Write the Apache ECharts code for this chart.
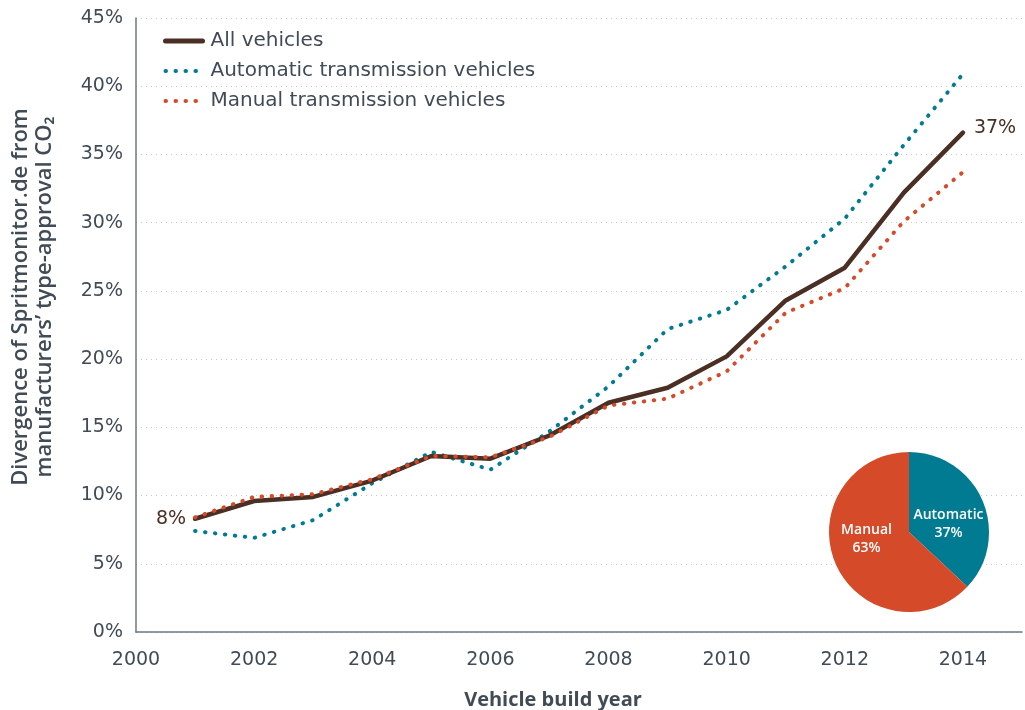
<!DOCTYPE html>
<html>
<head>
<meta charset="utf-8">
<script src="https://cdn.jsdelivr.net/npm/echarts@6/dist/echarts.min.js"></script>
<style>
    html, body { margin: 0; padding: 0; background: #fff; }
    #chart { width: 1025px; height: 710px; }
</style>
</head>
<body>
<div id="chart"></div>
<script>
    // build years and divergence (%)
    var years = [2001, 2002, 2003, 2004, 2005, 2006, 2007, 2008, 2009, 2010, 2011, 2012, 2013, 2014];
    var allVehicles = [8.3, 9.6, 9.9, 11.1, 12.9, 12.7, 14.4, 16.8, 17.9, 20.2, 24.3, 26.7, 32.2, 36.6];
    var automatic = [7.4, 6.9, 8.2, 10.9, 13.2, 11.9, 14.7, 18.0, 22.2, 23.6, 26.8, 30.3, 35.7, 40.9];
    var manual = [8.4, 9.9, 10.1, 11.2, 12.9, 12.8, 14.3, 16.6, 17.1, 19.1, 23.4, 25.2, 30.1, 33.7];
    var seriesNames = ['All vehicles', 'Automatic transmission vehicles', 'Manual transmission vehicles'];
    var pieNames = ['Automatic', 'Manual'];
    var pieValues = [37, 63];

    var FONT = 'DejaVu Sans';
    var TEXT = '#414b56';
    var BROWN = '#4b2e24';
    var TEAL = '#007b91';
    var RED = '#d54a28';

    function pairs(vals) {
        return years.map(function (y, i) { return [y, vals[i]]; });
    }

    // labels at both ends of "All vehicles"
    var last = years.length - 1;
    var endLabels = [
        { coord: [years[0], allVehicles[0]], pos: 'left', off: [0, 0] },
        { coord: [years[last], allVehicles[last]], pos: 'right', off: [2, -5] }
    ].map(function (e) {
        return {
            coord: e.coord,
            label: {
                position: e.pos,
                distance: 9,
                offset: e.off,
                formatter: Math.round(e.coord[1]) + '%'
            }
        };
    });

    var dotted = { type: [0.5, 9.5], cap: 'round', width: 4 };

    var chart = echarts.init(document.getElementById('chart'));
    var option = {
        animation: false,
        textStyle: { fontFamily: FONT },
        grid: { left: 136, right: 3, top: 18, bottom: 78, outerBoundsMode: 'none' },
        legend: {
            left: 158,
            top: 26,
            orient: 'vertical',
            itemGap: 10,
            itemWidth: 37,
            itemHeight: 22,
            itemStyle: { opacity: 0 },
            textStyle: { color: TEXT, fontSize: 20, fontFamily: FONT, padding: [0, 0, 0, 3] },
            data: [
                { name: seriesNames[0], lineStyle: { width: 5 } },
                { name: seriesNames[1], lineStyle: { width: 4 } },
                { name: seriesNames[2], lineStyle: { width: 4 } }
            ]
        },
        xAxis: {
            type: 'value',
            min: 2000,
            max: 2015,
            interval: 2,
            name: 'Vehicle build year',
            nameLocation: 'middle',
            nameGap: 58,
            nameTextStyle: { color: TEXT, fontSize: 20, fontWeight: 'bold', fontFamily: 'Open Sans', padding: [0, 52, 0, 0] },
            axisLine: { lineStyle: { color: '#6d7782', width: 1.5 } },
            axisTick: { show: false },
            axisLabel: {
                color: TEXT, fontSize: 19, margin: 19,
                showMaxLabel: false,
                formatter: function (v) { return String(v); }
            },
            splitLine: { show: false }
        },
        yAxis: {
            type: 'value',
            min: 0,
            max: 45,
            interval: 5,
            name: 'Divergence of Spritmonitor.de from\nmanufacturers\u2019 type-approval CO\u2082',
            nameLocation: 'middle',
            nameRotate: 90,
            nameGap: 79,
            nameTextStyle: { color: TEXT, fontSize: 22, fontWeight: 600, fontFamily: 'Open Sans', lineHeight: 24, padding: [0, 0, 0, 56] },
            axisLine: { show: true, lineStyle: { color: '#6d7782', width: 1.5 } },
            axisTick: { show: false },
            axisLabel: {
                color: TEXT, fontSize: 19, margin: 13,
                formatter: function (v) { return v + '%'; }
            },
            splitLine: { lineStyle: { color: '#c8c8c8', type: [1, 4], width: 1 } }
        },
        series: [
            {
                name: seriesNames[1],
                type: 'line',
                symbol: 'none',
                color: TEAL,
                lineStyle: dotted,
                data: pairs(automatic),
                z: 2
            },
            {
                name: seriesNames[0],
                type: 'line',
                symbol: 'none',
                color: BROWN,
                lineStyle: { width: 4.5, cap: 'round', join: 'round' },
                data: pairs(allVehicles),
                markPoint: {
                    symbol: 'circle',
                    symbolSize: 0,
                    silent: true,
                    label: { show: true, color: BROWN, fontFamily: FONT, fontSize: 19 },
                    data: endLabels
                },
                z: 3
            },
            {
                name: seriesNames[2],
                type: 'line',
                symbol: 'none',
                color: RED,
                lineStyle: dotted,
                data: pairs(manual),
                z: 4
            },
            {
                type: 'pie',
                center: [909, 532],
                radius: 80,
                startAngle: 90,
                clockwise: true,
                silent: true,
                legendHoverLink: false,
                data: pieNames.map(function (n, i) {
                    return {
                        name: n,
                        value: pieValues[i],
                        itemStyle: { color: i === 0 ? TEAL : RED },
                        label: { offset: i === 0 ? [0, 9] : [-3, -10] }
                    };
                }),
                label: {
                    show: true,
                    position: 'inside',
                    formatter: '{b}\n{d}%',
                    color: '#fff',
                    fontSize: 14,
                    fontWeight: 600,
                    lineHeight: 18,
                    fontFamily: 'Open Sans'
                },
                labelLine: { show: false },
                itemStyle: { borderWidth: 0 }
            }
        ]
    };
    chart.setOption(option);
</script>
</body>
</html>
